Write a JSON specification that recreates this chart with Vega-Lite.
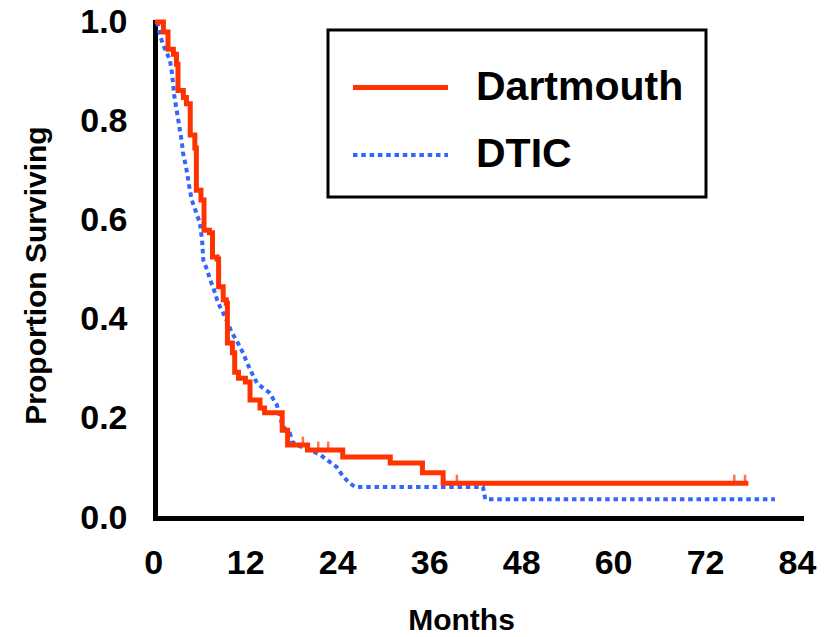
{
  "$schema": "https://vega.github.io/schema/vega-lite/v6.json",
  "autosize": "none",
  "width": 646,
  "height": 496,
  "padding": {"left": 155, "top": 22, "right": 36, "bottom": 119},
  "background": "white",
  "config": {
    "view": {"stroke": null},
    "font": "Liberation Sans",
    "axis": {
      "domainColor": "black",
      "domainWidth": 5,
      "domainCap": "square",
      "ticks": false,
      "grid": false,
      "labelFont": "Liberation Sans",
      "labelFontWeight": "bold",
      "labelFontSize": 34,
      "labelColor": "black",
      "titleFont": "Liberation Sans",
      "titleFontWeight": "bold",
      "titleColor": "black"
    },
    "legend": {
      "orient": "none",
      "legendX": 173,
      "legendY": 8,
      "strokeColor": "black",
      "strokeWidth": 3,
      "fillColor": "white",
      "padding": 22,
      "symbolType": "M-2.5,0H2.5",
      "symbolSize": 1444,
      "symbolOffset": 29,
      "labelFont": "Liberation Sans",
      "labelFontWeight": "bold",
      "labelFontSize": 41,
      "labelColor": "black",
      "labelOffset": 54,
      "rowPadding": 26,
      "labelLimit": 400,
      "titleFontSize": 14,
      "titlePadding": 0
    }
  },
  "datasets": {
    "curves": [
      {"series": "Dartmouth", "month": 0, "surv": 1.0},
      {"series": "Dartmouth", "month": 0.8, "surv": 0.98},
      {"series": "Dartmouth", "month": 1.4, "surv": 0.945},
      {"series": "Dartmouth", "month": 2.1, "surv": 0.935},
      {"series": "Dartmouth", "month": 2.5, "surv": 0.915},
      {"series": "Dartmouth", "month": 2.7, "surv": 0.862},
      {"series": "Dartmouth", "month": 3.4, "surv": 0.848},
      {"series": "Dartmouth", "month": 3.8, "surv": 0.835},
      {"series": "Dartmouth", "month": 4.3, "surv": 0.772},
      {"series": "Dartmouth", "month": 4.9, "surv": 0.746},
      {"series": "Dartmouth", "month": 5.1, "surv": 0.661},
      {"series": "Dartmouth", "month": 5.7, "surv": 0.641},
      {"series": "Dartmouth", "month": 6.1, "surv": 0.58},
      {"series": "Dartmouth", "month": 6.8, "surv": 0.575},
      {"series": "Dartmouth", "month": 7.2, "surv": 0.526},
      {"series": "Dartmouth", "month": 7.8, "surv": 0.522},
      {"series": "Dartmouth", "month": 8.0, "surv": 0.466},
      {"series": "Dartmouth", "month": 8.6, "surv": 0.44},
      {"series": "Dartmouth", "month": 9.0, "surv": 0.433},
      {"series": "Dartmouth", "month": 9.15, "surv": 0.353},
      {"series": "Dartmouth", "month": 9.8, "surv": 0.333},
      {"series": "Dartmouth", "month": 10.1, "surv": 0.294},
      {"series": "Dartmouth", "month": 10.6, "surv": 0.282},
      {"series": "Dartmouth", "month": 11.5, "surv": 0.274},
      {"series": "Dartmouth", "month": 12.1, "surv": 0.238},
      {"series": "Dartmouth", "month": 13.4, "surv": 0.222},
      {"series": "Dartmouth", "month": 14.0, "surv": 0.212},
      {"series": "Dartmouth", "month": 16.3, "surv": 0.177},
      {"series": "Dartmouth", "month": 17.0, "surv": 0.147},
      {"series": "Dartmouth", "month": 19.6, "surv": 0.137},
      {"series": "Dartmouth", "month": 24.2, "surv": 0.123},
      {"series": "Dartmouth", "month": 30.4, "surv": 0.111},
      {"series": "Dartmouth", "month": 34.6, "surv": 0.091},
      {"series": "Dartmouth", "month": 37.3, "surv": 0.07},
      {"series": "Dartmouth", "month": 76.8, "surv": 0.07},
      {"series": "DTIC", "month": 0, "surv": 1.0},
      {"series": "DTIC", "month": 0.35, "surv": 0.974},
      {"series": "DTIC", "month": 0.75, "surv": 0.954},
      {"series": "DTIC", "month": 1.25, "surv": 0.937},
      {"series": "DTIC", "month": 1.65, "surv": 0.923},
      {"series": "DTIC", "month": 1.9, "surv": 0.899},
      {"series": "DTIC", "month": 2.05, "surv": 0.877},
      {"series": "DTIC", "month": 2.2, "surv": 0.853},
      {"series": "DTIC", "month": 2.45, "surv": 0.829},
      {"series": "DTIC", "month": 2.7, "surv": 0.806},
      {"series": "DTIC", "month": 2.95, "surv": 0.782},
      {"series": "DTIC", "month": 3.2, "surv": 0.758},
      {"series": "DTIC", "month": 3.35, "surv": 0.736},
      {"series": "DTIC", "month": 3.75, "surv": 0.708},
      {"series": "DTIC", "month": 4.0, "surv": 0.685},
      {"series": "DTIC", "month": 4.25, "surv": 0.661},
      {"series": "DTIC", "month": 4.5, "surv": 0.641},
      {"series": "DTIC", "month": 5.05, "surv": 0.617},
      {"series": "DTIC", "month": 5.55, "surv": 0.595},
      {"series": "DTIC", "month": 5.85, "surv": 0.56},
      {"series": "DTIC", "month": 6.0, "surv": 0.52},
      {"series": "DTIC", "month": 6.5, "surv": 0.5},
      {"series": "DTIC", "month": 6.9, "surv": 0.48},
      {"series": "DTIC", "month": 7.4, "surv": 0.46},
      {"series": "DTIC", "month": 7.8, "surv": 0.44},
      {"series": "DTIC", "month": 8.2, "surv": 0.425},
      {"series": "DTIC", "month": 8.6, "surv": 0.413},
      {"series": "DTIC", "month": 9.2, "surv": 0.393},
      {"series": "DTIC", "month": 9.75, "surv": 0.373},
      {"series": "DTIC", "month": 10.3, "surv": 0.359},
      {"series": "DTIC", "month": 10.8, "surv": 0.345},
      {"series": "DTIC", "month": 11.3, "surv": 0.329},
      {"series": "DTIC", "month": 11.7, "surv": 0.313},
      {"series": "DTIC", "month": 12.35, "surv": 0.292},
      {"series": "DTIC", "month": 13.0, "surv": 0.272},
      {"series": "DTIC", "month": 13.8, "surv": 0.262},
      {"series": "DTIC", "month": 14.7, "surv": 0.252},
      {"series": "DTIC", "month": 15.2, "surv": 0.238},
      {"series": "DTIC", "month": 15.6, "surv": 0.228},
      {"series": "DTIC", "month": 15.9, "surv": 0.212},
      {"series": "DTIC", "month": 16.3, "surv": 0.188},
      {"series": "DTIC", "month": 16.8, "surv": 0.177},
      {"series": "DTIC", "month": 17.3, "surv": 0.171},
      {"series": "DTIC", "month": 17.6, "surv": 0.153},
      {"series": "DTIC", "month": 18.6, "surv": 0.145},
      {"series": "DTIC", "month": 19.9, "surv": 0.137},
      {"series": "DTIC", "month": 21.3, "surv": 0.127},
      {"series": "DTIC", "month": 22.5, "surv": 0.113},
      {"series": "DTIC", "month": 23.4, "surv": 0.103},
      {"series": "DTIC", "month": 24.1, "surv": 0.087},
      {"series": "DTIC", "month": 24.9, "surv": 0.073},
      {"series": "DTIC", "month": 25.8, "surv": 0.0625},
      {"series": "DTIC", "month": 42.5, "surv": 0.0625},
      {"series": "DTIC", "month": 42.8, "surv": 0.038},
      {"series": "DTIC", "month": 80.6, "surv": 0.038}
    ],
    "censored": [
      {"series": "Dartmouth", "month": 19.0, "surv": 0.147},
      {"series": "Dartmouth", "month": 21.0, "surv": 0.137},
      {"series": "Dartmouth", "month": 22.3, "surv": 0.137},
      {"series": "Dartmouth", "month": 39.1, "surv": 0.07},
      {"series": "Dartmouth", "month": 75.3, "surv": 0.07},
      {"series": "Dartmouth", "month": 76.7, "surv": 0.07}
    ]
  },
  "encoding": {
    "x": {
      "field": "month",
      "type": "quantitative",
      "scale": {"domain": [-0.3, 84], "nice": false, "zero": false},
      "axis": {
        "values": [0, 12, 24, 36, 48, 60, 72, 84],
        "labelPadding": 28,
        "labelOffset": -4,
        "labelFlush": false,
        "title": "Months",
        "titleFontSize": 30,
        "titleX": 306,
        "titleY": 111,
        "titleAlign": "center",
        "titleBaseline": "alphabetic"
      }
    },
    "y": {
      "field": "surv",
      "type": "quantitative",
      "scale": {"domain": [0, 1], "nice": false},
      "axis": {
        "values": [0, 0.2, 0.4, 0.6, 0.8, 1.0],
        "format": ".1f",
        "labelPadding": 28,
        "labelFlush": false,
        "title": "Proportion Surviving",
        "titleFontSize": 30,
        "titleAngle": -90,
        "titleX": -110,
        "titleY": 253,
        "titleAlign": "center",
        "titleBaseline": "alphabetic"
      }
    }
  },
  "layer": [
    {
      "data": {"name": "curves"},
      "transform": [{"filter": "datum.series === 'DTIC'"}],
      "mark": {"type": "line", "interpolate": "linear", "strokeCap": "butt"},
      "encoding": {
        "color": {"field": "series", "type": "nominal", "scale": {"domain": ["Dartmouth", "DTIC"], "range": ["#FF3300", "#3366FF"]}, "legend": {"title": " "}},
        "strokeDash": {"field": "series", "type": "nominal", "scale": {"domain": ["Dartmouth", "DTIC"], "range": [[1, 0], [4.5, 3.8]]}, "legend": {"title": " "}},
        "strokeWidth": {"field": "series", "type": "nominal", "scale": {"domain": ["Dartmouth", "DTIC"], "range": [5, 4]}, "legend": {"title": " "}}
      }
    },
    {
      "data": {"name": "curves"},
      "transform": [{"filter": "datum.series === 'Dartmouth'"}],
      "mark": {"type": "line", "interpolate": "step-after", "strokeCap": "square"},
      "encoding": {
        "color": {"field": "series", "type": "nominal"},
        "strokeDash": {"field": "series", "type": "nominal"},
        "strokeWidth": {"field": "series", "type": "nominal"}
      }
    },
    {
      "data": {"name": "censored"},
      "mark": {"type": "tick", "orient": "vertical", "size": 9, "thickness": 2.5, "yOffset": -4, "color": "#FF3300"},
      "encoding": {}
    }
  ]
}
